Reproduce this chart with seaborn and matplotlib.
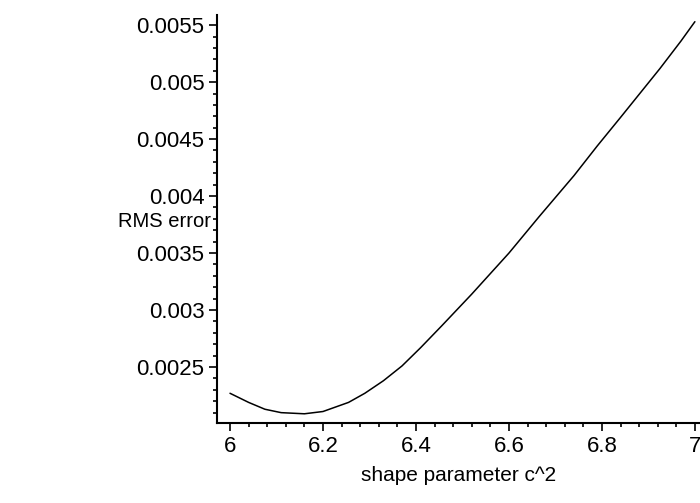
import numpy as np
import pandas as pd
import matplotlib
matplotlib.use("Agg")
import matplotlib.pyplot as plt
import seaborn as sns
from matplotlib.ticker import AutoMinorLocator

# shape parameter c^2 and RMS error
shape_c2 = [6.0, 6.04, 6.075, 6.11, 6.16, 6.2, 6.255, 6.29, 6.33, 6.37,
            6.41, 6.455, 6.52, 6.6, 6.665, 6.74, 6.79, 6.84, 6.925, 6.97, 7.0]
rms_error = [0.00227, 0.00219, 0.00213, 0.00210, 0.00209, 0.00211, 0.00219,
             0.00227, 0.00238, 0.00251, 0.00267, 0.00286, 0.00314, 0.00350,
             0.00382, 0.00418, 0.00444, 0.00469, 0.00512, 0.00536, 0.00553]

x_ticks = [6, 6.2, 6.4, 6.6, 6.8, 7]
x_tick_labels = ["6", "6.2", "6.4", "6.6", "6.8", "7"]
y_ticks = [0.0025, 0.003, 0.0035, 0.004, 0.0045, 0.005, 0.0055]
y_tick_labels = ["0.0025", "0.003", "0.0035", "0.004", "0.0045", "0.005", "0.0055"]

df = pd.DataFrame({"c2": shape_c2, "rms": rms_error})

sns.set_style("white")
plt.rcParams['font.family'] = ['Liberation Sans', 'DejaVu Sans']
plt.rcParams['text.color'] = 'black'
plt.rcParams['axes.labelcolor'] = 'black'

fig = plt.figure(figsize=(7, 5.03), dpi=100)
ax = fig.add_axes([0.31, 0.159, 0.69, 0.811])

sns.lineplot(data=df, x="c2", y="rms", color="black", linewidth=1.1, ax=ax)

ax.set_xlim(5.972, 7.011)
ax.set_ylim(0.002009, 0.005588)

ax.set_xticks(x_ticks)
ax.set_xticklabels(x_tick_labels)
ax.set_yticks(y_ticks)
ax.set_yticklabels(y_tick_labels)
ax.xaxis.set_minor_locator(AutoMinorLocator(5))
ax.yaxis.set_minor_locator(AutoMinorLocator(5))

ax.tick_params(axis="both", which="major", direction="out", length=6, width=1.2,
               labelsize=16, color="black", labelcolor="black", pad=3)
ax.tick_params(axis="both", which="minor", direction="out", length=3, width=1.2,
               color="black")
ax.tick_params(bottom=True, left=True, which="both")

for side in ["top", "right"]:
    ax.spines[side].set_visible(False)
for side in ["left", "bottom"]:
    ax.spines[side].set_color("black")
    ax.spines[side].set_linewidth(1.5)

ax.set_xlabel("shape parameter c^2", fontsize=15, labelpad=7)
ax.set_ylabel("RMS error", fontsize=14.5, rotation=0, ha="center", va="center")
ax.yaxis.set_label_coords(-0.108, 0.493)

fig.savefig("out.png", dpi=100)
